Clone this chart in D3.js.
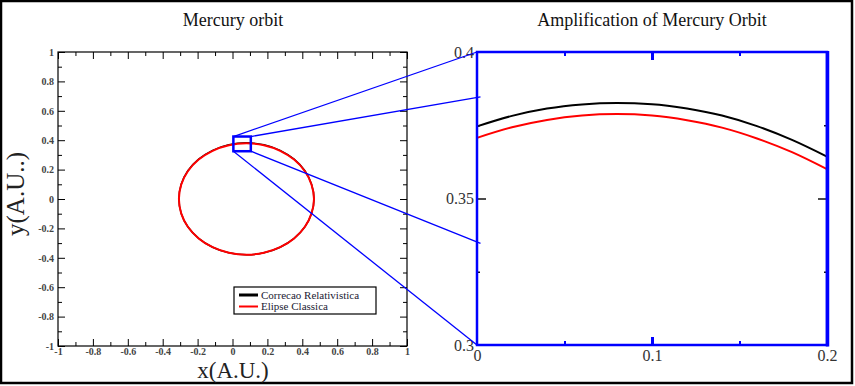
<!DOCTYPE html>
<html>
<head>
<meta charset="utf-8">
<script src="https://cdn.jsdelivr.net/npm/d3@7"></script>
<style>
  body { margin: 0; background: #fff; }
  text { font-family: "Liberation Serif", "DejaVu Serif", serif; }
</style>
</head>
<body>
<div id="main"></div>
<script>
// orbit points (A.U.)
let orbitX = [0.467, 0.453, 0.415, 0.353, 0.273, 0.180, 0.080, -0.021, -0.114, -0.194, -0.256, -0.294,
              -0.307, -0.294, -0.256, -0.194, -0.114, -0.021, 0.080, 0.180, 0.273, 0.353, 0.415, 0.453];
let classicY = [0, 0.098, 0.189, 0.268, 0.328, 0.366, 0.379, 0.366, 0.328, 0.268, 0.189, 0.098,
                0, -0.098, -0.189, -0.268, -0.328, -0.366, -0.379, -0.366, -0.328, -0.268, -0.189, -0.098];
let relY = [0, 0.100, 0.192, 0.271, 0.331, 0.369, 0.382, 0.369, 0.331, 0.271, 0.192, 0.100,
            0, -0.098, -0.189, -0.268, -0.328, -0.366, -0.379, -0.366, -0.328, -0.268, -0.189, -0.098];

// amplified section, right panel
let zoomX = [0, 0.02, 0.04, 0.06, 0.08, 0.10, 0.12, 0.14, 0.16, 0.18, 0.20];
let zoomClassicY = [0.3707, 0.3743, 0.3768, 0.3783, 0.3788, 0.3783, 0.3767, 0.3742, 0.3705, 0.3658, 0.3600];
let zoomRelY = [0.3746, 0.3782, 0.3807, 0.3821, 0.3826, 0.3822, 0.3807, 0.3783, 0.3747, 0.3700, 0.3643];

// zoom box in left panel and where its corners land on the right
let boxX = [0.005, 0.105];
let boxY = [0.325, 0.425];
let linkTargets = [[0, 0.4], [0.002, 0.3847], [0.002, 0.3347], [0, 0.3]];

let mainTicks = [-1, -0.8, -0.6, -0.4, -0.2, 0, 0.2, 0.4, 0.6, 0.8, 1];
let mainLabels = ["-1", "-0.8", "-0.6", "-0.4", "-0.2", "0", "0.2", "0.4", "0.6", "0.8", "1"];
let mainMinor = [-0.9, -0.7, -0.5, -0.3, -0.1, 0.1, 0.3, 0.5, 0.7, 0.9];
let zoomXTicks = [0, 0.1, 0.2];
let zoomXLabels = ["0", "0.1", "0.2"];
let zoomXMinor = [0.05, 0.15];
let zoomYTicks = [0.3, 0.35, 0.4];
let zoomYLabels = ["0.3", "0.35", "0.4"];
let zoomYMinor = [0.325, 0.375];

let legendNames = ["Correcao Relativistica", "Elipse Classica"];
let legendColors = ["#000", "#f00"];

let svg = d3.select("#main")
    .append("svg")
    .attr("width", 855)
    .attr("height", 386);

// outer frame
svg.append("rect")
    .attr("x", 1).attr("y", 1).attr("width", 851).attr("height", 382)
    .attr("fill", "none").attr("stroke", "#000").attr("stroke-width", 2.5);

var xL = d3.scaleLinear().domain([-1, 1]).range([58, 407]);
var yL = d3.scaleLinear().domain([-1, 1]).range([346, 52]);
var xR = d3.scaleLinear().domain([0, 0.2]).range([477, 827]);
var yR = d3.scaleLinear().domain([0.3, 0.4]).range([345, 52]);

function styleAxis(g, color, width, fs, weight, fill) {
    g.select(".domain").remove();
    g.selectAll("line").attr("stroke", color).attr("stroke-width", width);
    g.selectAll("text")
        .style("font-family", '"Liberation Serif", serif')
        .attr("font-size", fs)
        .attr("font-weight", weight)
        .attr("fill", fill);
}

// ---- left panel
let gl = svg.append("g");
let labL = d => mainLabels[mainTicks.indexOf(d)];

gl.append("g").attr("transform", "translate(0,346)")
    .call(d3.axisBottom(xL).tickValues(mainTicks).tickSize(-7).tickPadding(2).tickFormat(labL))
    .call(g => styleAxis(g, "#000", 1, 10, "bold", "#444"));
gl.append("g").attr("transform", "translate(0,346)")
    .call(d3.axisBottom(xL).tickValues(mainMinor).tickSize(-4).tickFormat(""))
    .call(g => styleAxis(g, "#000", 1, 10, "normal", "#000"));
gl.append("g").attr("transform", "translate(0,52)")
    .call(d3.axisTop(xL).tickValues(mainTicks).tickSize(-7).tickFormat(""))
    .call(g => styleAxis(g, "#000", 1, 10, "normal", "#000"));
gl.append("g").attr("transform", "translate(0,52)")
    .call(d3.axisTop(xL).tickValues(mainMinor).tickSize(-4).tickFormat(""))
    .call(g => styleAxis(g, "#000", 1, 10, "normal", "#000"));
gl.append("g").attr("transform", "translate(58,0)")
    .call(d3.axisLeft(yL).tickValues(mainTicks).tickSize(-7).tickPadding(4).tickFormat(labL))
    .call(g => styleAxis(g, "#000", 1, 10, "bold", "#444"));
gl.append("g").attr("transform", "translate(58,0)")
    .call(d3.axisLeft(yL).tickValues(mainMinor).tickSize(-4).tickFormat(""))
    .call(g => styleAxis(g, "#000", 1, 10, "normal", "#000"));
gl.append("g").attr("transform", "translate(407,0)")
    .call(d3.axisRight(yL).tickValues(mainTicks).tickSize(-7).tickFormat(""))
    .call(g => styleAxis(g, "#000", 1, 10, "normal", "#000"));
gl.append("g").attr("transform", "translate(407,0)")
    .call(d3.axisRight(yL).tickValues(mainMinor).tickSize(-4).tickFormat(""))
    .call(g => styleAxis(g, "#000", 1, 10, "normal", "#000"));

gl.append("rect")
    .attr("x", xL(-1)).attr("y", yL(1))
    .attr("width", xL(1) - xL(-1)).attr("height", yL(-1) - yL(1))
    .attr("fill", "none").attr("stroke", "#000").attr("stroke-width", 1.2);

let orbitLine = d3.line().curve(d3.curveCatmullRomClosed);
gl.append("path")
    .attr("d", orbitLine(orbitX.map((x, i) => [xL(x), yL(relY[i])])))
    .attr("fill", "none").attr("stroke", "#000").attr("stroke-width", 1.5);
gl.append("path")
    .attr("d", orbitLine(orbitX.map((x, i) => [xL(x), yL(classicY[i])])))
    .attr("fill", "none").attr("stroke", "#f00").attr("stroke-width", 2);

// legend
let lg = gl.append("g");
lg.append("rect")
    .attr("x", 234).attr("y", 287).attr("width", 142).attr("height", 27)
    .attr("fill", "#fff").attr("stroke", "#000").attr("stroke-width", 1.2);
legendNames.forEach((name, i) => {
    lg.append("line")
        .attr("x1", 239).attr("x2", 258)
        .attr("y1", 295 + i * 11.5).attr("y2", 295 + i * 11.5)
        .attr("stroke", legendColors[i]).attr("stroke-width", i == 0 ? 3 : 2);
    lg.append("text")
        .attr("x", 261).attr("y", 295 + i * 11.5 + 3.8)
        .attr("font-size", 11).attr("fill", "#1a1a33")
        .text(name);
});

gl.append("text")
    .attr("x", 233).attr("y", 26).attr("text-anchor", "middle")
    .attr("font-size", 18).attr("fill", "#111")
    .text("Mercury orbit");
gl.append("text")
    .attr("x", 233).attr("y", 378).attr("text-anchor", "middle")
    .attr("font-size", 23).attr("fill", "#222")
    .text("x(A.U.)");
gl.append("text")
    .attr("transform", "translate(24,194) rotate(-90)")
    .attr("text-anchor", "middle")
    .attr("font-size", 25).attr("fill", "#222")
    .text("y(A.U..)");

// ---- right panel
let gr = svg.append("g");
let labRX = d => zoomXLabels[zoomXTicks.indexOf(d)];
let labRY = d => zoomYLabels[zoomYTicks.indexOf(d)];

let zl = d3.line().curve(d3.curveMonotoneX);
gr.append("path")
    .attr("d", zl(zoomX.map((x, i) => [xR(x), yR(zoomRelY[i])])))
    .attr("fill", "none").attr("stroke", "#000").attr("stroke-width", 2);
gr.append("path")
    .attr("d", zl(zoomX.map((x, i) => [xR(x), yR(zoomClassicY[i])])))
    .attr("fill", "none").attr("stroke", "#f00").attr("stroke-width", 2);

gr.append("g").attr("transform", "translate(0,345)")
    .call(d3.axisBottom(xR).tickValues([0.1]).tickSize(-8).tickFormat(""))
    .call(g => styleAxis(g, "#00f", 3, 16, "normal", "#333"));
gr.append("g").attr("transform", "translate(0,345)")
    .call(d3.axisBottom(xR).tickValues(zoomXTicks).tickSize(0).tickPadding(5).tickFormat(labRX))
    .call(g => styleAxis(g, "#00f", 0, 16, "normal", "#333"));
gr.append("g").attr("transform", "translate(0,345)")
    .call(d3.axisBottom(xR).tickValues(zoomXMinor).tickSize(-4).tickFormat(""))
    .call(g => styleAxis(g, "#00f", 2, 16, "normal", "#333"));
gr.append("g").attr("transform", "translate(0,52)")
    .call(d3.axisTop(xR).tickValues([0.1]).tickSize(-8).tickFormat(""))
    .call(g => styleAxis(g, "#00f", 3, 16, "normal", "#333"));
gr.append("g").attr("transform", "translate(0,52)")
    .call(d3.axisTop(xR).tickValues(zoomXMinor).tickSize(-4).tickFormat(""))
    .call(g => styleAxis(g, "#00f", 2, 16, "normal", "#333"));

gr.append("g").attr("transform", "translate(477,0)")
    .call(d3.axisLeft(yR).tickValues(zoomYTicks).tickSize(0).tickPadding(3).tickFormat(labRY))
    .call(g => styleAxis(g, "#000", 0, 16, "normal", "#333"));
gr.append("g").attr("transform", "translate(477,0)")
    .call(d3.axisLeft(yR).tickValues([0.35]).tickSize(-9).tickFormat(""))
    .call(g => styleAxis(g, "#111", 1.5, 16, "normal", "#333"));
gr.append("g").attr("transform", "translate(477,0)")
    .call(d3.axisLeft(yR).tickValues(zoomYMinor).tickSize(-3).tickFormat(""))
    .call(g => styleAxis(g, "#111", 1.5, 16, "normal", "#333"));
gr.append("g").attr("transform", "translate(827,0)")
    .call(d3.axisRight(yR).tickValues([0.35]).tickSize(-9).tickFormat(""))
    .call(g => styleAxis(g, "#111", 1.5, 16, "normal", "#333"));
gr.append("g").attr("transform", "translate(827,0)")
    .call(d3.axisRight(yR).tickValues(zoomYMinor).tickSize(-3).tickFormat(""))
    .call(g => styleAxis(g, "#111", 1.5, 16, "normal", "#333"));

gr.append("rect")
    .attr("x", xR(0)).attr("y", yR(0.4))
    .attr("width", xR(0.2) - xR(0)).attr("height", yR(0.3) - yR(0.4))
    .attr("fill", "none").attr("stroke", "#00f").attr("stroke-width", 2.5);
gr.append("line")
    .attr("x1", xR(0.2) + 0.5).attr("x2", xR(0.2) + 0.5)
    .attr("y1", yR(0.4) - 1).attr("y2", yR(0.3) + 1.5)
    .attr("stroke", "#00f").attr("stroke-width", 3.5);

gr.append("text")
    .attr("x", 652).attr("y", 26).attr("text-anchor", "middle")
    .attr("font-size", 18).attr("fill", "#111")
    .text("Amplification of Mercury Orbit");

// ---- zoom box and link lines
let corners = [[boxX[0], boxY[1]], [boxX[1], boxY[1]], [boxX[1], boxY[0]], [boxX[0], boxY[0]]];
svg.append("g").selectAll("line")
    .data(corners)
    .enter()
    .append("line")
    .attr("x1", d => xL(d[0])).attr("y1", d => yL(d[1]))
    .attr("x2", (d, i) => xR(linkTargets[i][0])).attr("y2", (d, i) => yR(linkTargets[i][1]))
    .attr("stroke", "#00f").attr("stroke-width", 1.3);
svg.append("rect")
    .attr("x", xL(boxX[0])).attr("y", yL(boxY[1]))
    .attr("width", xL(boxX[1]) - xL(boxX[0])).attr("height", yL(boxY[0]) - yL(boxY[1]))
    .attr("fill", "none").attr("stroke", "#00f").attr("stroke-width", 2.5);
</script>
</body>
</html>
